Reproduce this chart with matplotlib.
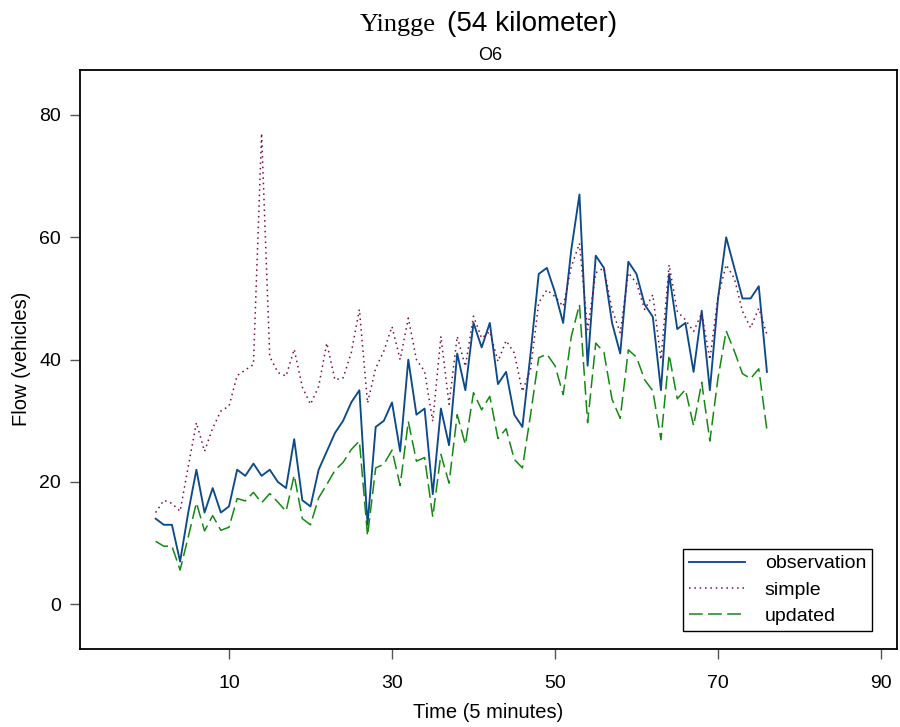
import matplotlib
matplotlib.use("Agg")
import matplotlib.pyplot as plt
import numpy as np

plt.rcParams["font.family"] = ["Liberation Sans", "DejaVu Sans"]

# Zeitindex (5-Minuten-Intervalle)
time = np.arange(1, 77)

observation = [14, 13, 13, 7, 15, 22, 15, 19, 15, 16,
               22, 21, 23, 21, 22, 20, 19, 27, 17, 16,
               22, 25, 28, 30, 33, 35, 13, 29, 30, 33,
               25, 40, 31, 32, 18, 32, 26, 41, 35, 46,
               42, 46, 36, 38, 31, 29, 41, 54, 55, 51,
               46, 58, 67, 39, 57, 55, 46, 41, 56, 54,
               49, 47, 35, 54, 45, 46, 38, 48, 35, 50,
               60, 55, 50, 50, 52, 38]

simple = [15.0, 17.0, 16.5, 15.2, 22.5, 29.7, 25.0, 28.8, 31.6, 32.4,
          37.4, 38.3, 39.2, 77.0, 40.5, 37.9, 37.3, 41.7, 35.5, 32.7,
          35.6, 42.7, 36.7, 37.0, 41.1, 48.2, 32.9, 38.6, 41.4, 45.4,
          40.0, 46.8, 40.0, 38.1, 29.9, 43.8, 32.7, 43.8, 38.9, 47.1,
          43.5, 44.6, 39.7, 43.1, 41.1, 34.8, 38.4, 49.3, 51.4, 50.3,
          48.7, 55.2, 59.0, 44.9, 54.2, 55.0, 48.2, 44.4, 54.2, 52.5,
          48.2, 50.6, 40.0, 55.5, 47.9, 46.5, 44.6, 47.6, 40.0, 50.3,
          55.5, 53.3, 47.9, 45.2, 48.4, 44.1]

updated = [10.3, 9.5, 9.5, 5.6, 11.0, 16.6, 12.0, 14.5, 12.1, 12.6,
           17.3, 16.9, 18.3, 16.6, 18.1, 16.7, 15.2, 21.1, 14.0, 13.0,
           17.4, 19.6, 21.9, 23.2, 25.3, 26.7, 11.2, 22.3, 22.9, 25.2,
           19.4, 29.9, 23.4, 24.0, 14.3, 24.5, 19.8, 31.0, 26.1, 34.6,
           31.8, 34.0, 27.1, 28.7, 23.7, 22.3, 31.0, 40.3, 40.9, 39.0,
           34.3, 43.8, 49.0, 29.7, 42.7, 41.2, 33.5, 30.4, 41.6, 40.4,
           36.7, 34.9, 26.9, 40.8, 33.6, 35.1, 29.2, 36.3, 26.7, 37.0,
           44.7, 41.4, 37.7, 36.9, 38.5, 28.5]

x_ticks = [10, 30, 50, 70, 90]
y_ticks = [0, 20, 40, 60, 80]

fig = plt.figure(figsize=(9, 7.27), dpi=100)
ax = fig.add_axes([80 / 900, 1 - 648.7 / 727, 817 / 900, 579 / 727])

ax.plot(time, observation, color="#0d4a8a", lw=1.35, label="observation")
ax.plot(time, simple, color="#7d0a45", lw=1.1, linestyle=(0, (1, 2.5)), label="simple")
ax.plot(time, updated, color="#128a12", lw=1.1, dashes=(9, 3.5), label="updated")

ax.set_xlim(-8.28, 91.96)
ax.set_ylim(-7.26, 87.4)
ax.set_xticks(x_ticks)
ax.set_yticks(y_ticks)
ax.tick_params(axis="both", direction="out", length=7, width=1.0, color="#555555",
               labelsize=14)
ax.tick_params(axis="y", pad=6.5)
ax.tick_params(axis="x", pad=12)
for s in ax.spines.values():
    s.set_linewidth(1.3)

ax.set_xlabel("Time (5 minutes)", fontsize=14.5, labelpad=8)
ax.set_ylabel("Flow (vehicles)", fontsize=14.5, labelpad=6)

# Titel: "Yingge" in Serifenschrift, Rest serifenlos
fig.text(436 / 900, 1 - 31 / 727, "Yingge", fontsize=19, family="Liberation Serif",
         ha="right", va="baseline")
fig.text(447 / 900, 1 - 31 / 727, "(54 kilometer)", fontsize=20, ha="left", va="baseline")
fig.text(490 / 900, 1 - 55 / 727, "O6", fontsize=13, ha="center", va="center")

leg = ax.legend(loc="lower right", bbox_to_anchor=((872 - 80) / 817, (648.7 - 631) / 579),
                borderaxespad=0, fontsize=14, fancybox=False, framealpha=1,
                edgecolor="black", handlelength=2.9, labelspacing=0.45, handletextpad=1.0,
                borderpad=0.3)
leg.get_frame().set_linewidth(1.0)

fig.savefig("out.png", dpi=100)
